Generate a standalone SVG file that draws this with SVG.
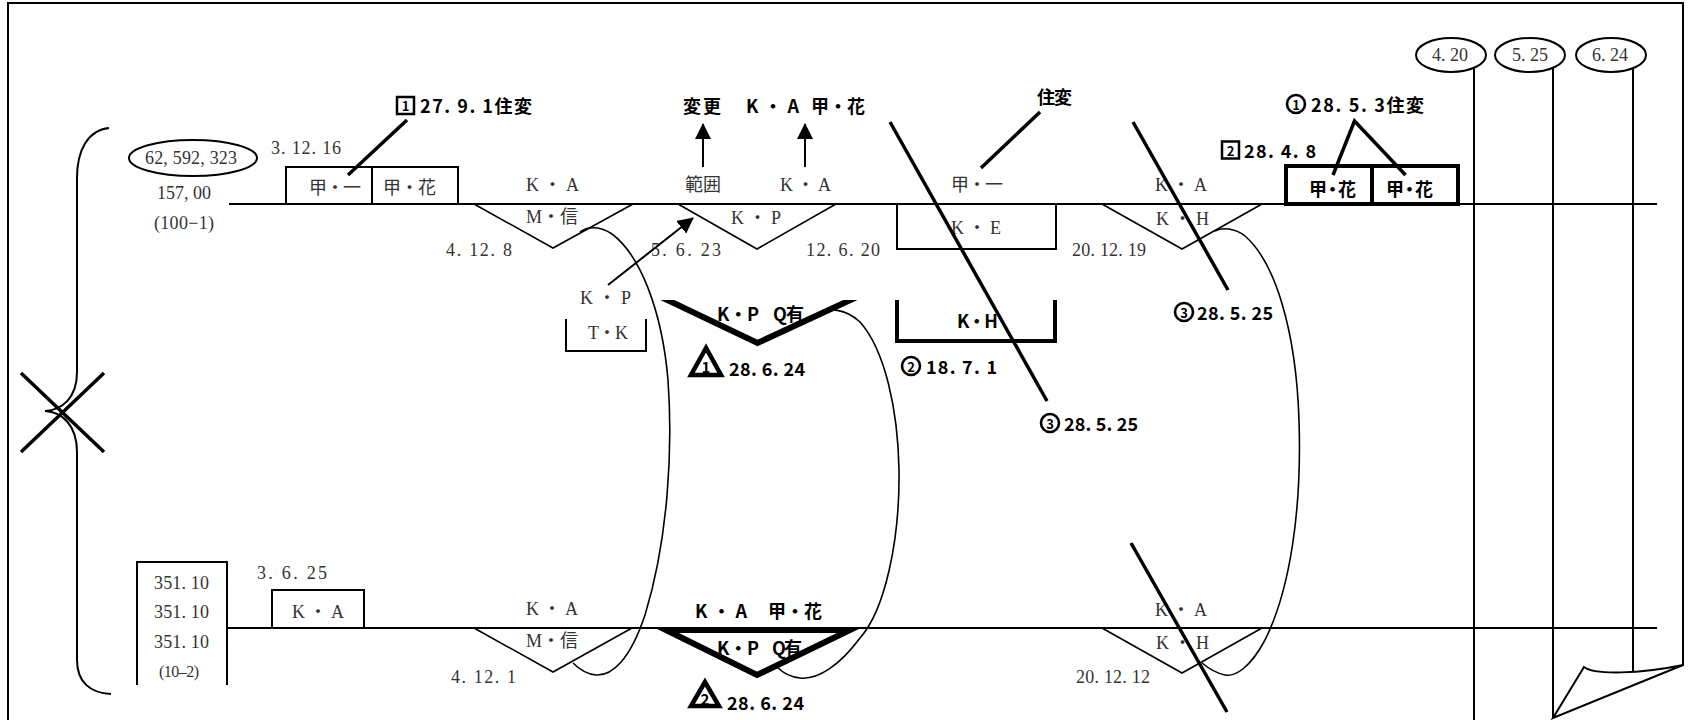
<svg xmlns="http://www.w3.org/2000/svg" width="1690" height="720" viewBox="0 0 1690 720">
  <defs>
    <style>
      .t { font-family: "Liberation Serif", "Noto Sans CJK JP", serif; font-size: 18px; fill: #333; dominant-baseline: central; }
      .ts { font-family: "Liberation Serif", "Noto Sans CJK JP", serif; font-size: 16px; fill: #333; dominant-baseline: central; }
      .b { font-family: "Noto Sans CJK JP", "Noto Sans", sans-serif; font-weight: 700; font-size: 18px; fill: #000; dominant-baseline: central; }
      .bn { font-family: "Noto Sans CJK JP", "Noto Sans", sans-serif; font-weight: 700; font-size: 13px; fill: #000; dominant-baseline: central; text-anchor: middle; }
      .bt { font-family: "Noto Sans CJK JP", "Noto Sans", sans-serif; font-weight: 700; font-size: 15px; fill: #000; dominant-baseline: central; text-anchor: middle; }
      .ln { fill: none; stroke: #000; stroke-width: 2; }
      .lt { fill: none; stroke: #000; stroke-width: 1.6; }
      .lk { fill: none; stroke: #000; stroke-width: 3.5; stroke-linecap: butt; }
      .lb { fill: none; stroke: #000; stroke-width: 4; }
      .lv { fill: none; stroke: #000; stroke-width: 6; stroke-miterlimit: 10; }
      .ring { fill: none; stroke: #000; stroke-width: 2.6; }
      .sq { fill: none; stroke: #000; stroke-width: 2.5; }
      .tri { fill: none; stroke: #000; stroke-width: 4.5; stroke-linejoin: miter; }
    </style>
    <marker id="arrow" markerUnits="userSpaceOnUse" markerWidth="16" markerHeight="16" refX="15" refY="8" orient="auto">
      <path d="M0,0 L16,8 L0,16 z" fill="#000"/>
    </marker>
    <clipPath id="cutTop">
      <rect x="600" y="300" width="320" height="60"/>
    </clipPath>
  </defs>

  <rect width="1690" height="720" fill="#fff"/>

  <!-- sheet outline with the curled lower-right corner -->
  <g id="sheet">
    <path class="ln" d="M8,720 V3 H1683 V665 L1553,718 L1584,667 C1594,675 1640,674 1683,665"/>
  </g>

  <!-- left brace joining both parcels, struck through -->
  <g id="brace">
    <path class="ln" d="M109,128 C88,130 77,150 77,178 V372 C77,398 62,410 45,411 C62,412 77,425 77,452 V660 C77,682 90,693 111,694"/>
    <path class="lk" d="M21,373 L104,452 M104,373 L21,452"/>
  </g>

  <!-- base lines of the two parcels -->
  <g id="base-lines">
    <path class="ln" d="M229,204 H1657"/>
    <path class="ln" d="M227,628 H1657"/>
  </g>

  <!-- date columns on the right -->
  <g id="date-420">
    <ellipse class="ln" cx="1451" cy="55" rx="35" ry="17"/>
    <text class="t" x="1432" y="55" textLength="36" lengthAdjust="spacing">4. 20</text>
    <path class="ln" d="M1474,68 V720"/>
  </g>
  <g id="date-525">
    <ellipse class="ln" cx="1530" cy="55" rx="35" ry="17"/>
    <text class="t" x="1512" y="55" textLength="36" lengthAdjust="spacing">5. 25</text>
    <path class="ln" d="M1553,68 V718"/>
  </g>
  <g id="date-624">
    <ellipse class="ln" cx="1611" cy="55" rx="35" ry="17"/>
    <text class="t" x="1592" y="55" textLength="36" lengthAdjust="spacing">6. 24</text>
    <path class="ln" d="M1633,68 V672"/>
  </g>

  <!-- upper parcel (100-1) -->
  <g id="parcel-100-1">
    <ellipse class="ln" cx="193" cy="158" rx="64" ry="18"/>
    <text class="t" x="145" y="158" textLength="92" lengthAdjust="spacing">62, 592, 323</text>
    <text class="t" x="157" y="193" textLength="54" lengthAdjust="spacing">157, 00</text>
    <text class="t" x="154" y="223" textLength="60" lengthAdjust="spacing">(100−1)</text>
  </g>

  <g id="owner-box-1">
    <text class="t" x="271" y="148" textLength="70" lengthAdjust="spacing">3. 12. 16</text>
    <rect class="ln" x="286" y="167" width="172" height="37"/>
    <path class="ln" d="M372,167 V204"/>
    <text class="t" x="309" y="188" textLength="52" lengthAdjust="spacing">甲・一</text>
    <text class="t" x="383" y="188" textLength="53" lengthAdjust="spacing">甲・花</text>
  </g>

  <g id="note-1">
    <rect class="sq" x="397" y="97" width="17" height="17"/>
    <text class="bn" x="405.5" y="105.5">1</text>
    <text class="b" x="420" y="105" textLength="112" lengthAdjust="spacing">27. 9. 1住変</text>
  </g>

  <g id="mortgage-m-top">
    <text class="t" x="526" y="185" textLength="53" lengthAdjust="spacing">K・A</text>
    <path class="lt" d="M474,204 L553,248 L633,204"/>
    <text class="t" x="526" y="217" textLength="52" lengthAdjust="spacing">M・信</text>
    <text class="t" x="446" y="250" textLength="66" lengthAdjust="spacing">4. 12. 8</text>
  </g>

  <g id="mortgage-kp-top">
    <text class="t" x="685" y="185" textLength="36" lengthAdjust="spacing">範囲</text>
    <text class="t" x="780" y="185" textLength="51" lengthAdjust="spacing">K・A</text>
    <path class="lt" d="M678,204 L757,249 L836,204"/>
    <text class="t" x="731" y="218" textLength="50" lengthAdjust="spacing">K・P</text>
    <text class="t" x="651" y="250" textLength="70" lengthAdjust="spacing">5. 6. 23</text>
    <text class="t" x="806" y="250" textLength="74" lengthAdjust="spacing">12. 6. 20</text>
  </g>

  <g id="note-change">
    <text class="b" x="683" y="105" textLength="38" lengthAdjust="spacing">変更</text>
    <text class="b" x="746" y="105" textLength="53" lengthAdjust="spacing">K・A</text>
    <text class="b" x="811" y="105" textLength="54" lengthAdjust="spacing">甲・花</text>
  </g>

  <g id="tk-box">
    <text class="t" x="580" y="298" textLength="51" lengthAdjust="spacing">K・P</text>
    <path class="ln" d="M566,319 V351 H646 V319"/>
    <text class="t" x="588" y="333" textLength="40" lengthAdjust="spacing">T・K</text>
  </g>

  <g id="kp-q-top">
    <g clip-path="url(#cutTop)">
      <path class="lv" d="M659,296 L757.5,343 L859,296"/>
    </g>
    <text class="b" x="717" y="313" textLength="42" lengthAdjust="spacing">K・P</text>
    <text class="b" x="773" y="313" textLength="31" lengthAdjust="spacing">Q有</text>
    <polygon class="tri" points="706,348 691,375 721,375"/>
    <text class="bt" x="706" y="366">1</text>
    <text class="b" x="729" y="368" textLength="76" lengthAdjust="spacing">28. 6. 24</text>
  </g>

  <g id="owner-ke">
    <text class="t" x="951" y="185" textLength="52" lengthAdjust="spacing">甲・一</text>
    <rect class="ln" x="897" y="204" width="159" height="45"/>
    <text class="t" x="951" y="228" textLength="50" lengthAdjust="spacing">K・E</text>
    <text class="b" x="1037" y="96" textLength="35" lengthAdjust="spacing">住変</text>
  </g>

  <g id="kh-bracket">
    <path class="lb" d="M897,300 V341 H1055 V300"/>
    <text class="b" x="957" y="320" textLength="41" lengthAdjust="spacing">K・H</text>
    <circle class="ring" cx="911" cy="366" r="9"/>
    <text class="bn" x="911" y="366">2</text>
    <text class="b" x="926" y="366" textLength="71" lengthAdjust="spacing">18. 7. 1</text>
  </g>

  <g id="note-3a">
    <circle class="ring" cx="1050" cy="423" r="9"/>
    <text class="bn" x="1050" y="423">3</text>
    <text class="b" x="1064" y="423" textLength="74" lengthAdjust="spacing">28. 5. 25</text>
  </g>

  <g id="mortgage-kh-top">
    <text class="t" x="1155" y="185" textLength="52" lengthAdjust="spacing">K・A</text>
    <path class="lt" d="M1102,204 L1182,249 L1262,204"/>
    <text class="t" x="1156" y="219" textLength="53" lengthAdjust="spacing">K・H</text>
    <text class="t" x="1072" y="250" textLength="74" lengthAdjust="spacing">20. 12. 19</text>
  </g>

  <g id="note-3b">
    <circle class="ring" cx="1184" cy="312" r="9"/>
    <text class="bn" x="1184" y="312">3</text>
    <text class="b" x="1197" y="312" textLength="76" lengthAdjust="spacing">28. 5. 25</text>
  </g>

  <g id="owner-box-2">
    <rect x="1286" y="166" width="172" height="38" fill="none" stroke="#000" stroke-width="4"/>
    <path class="lb" d="M1372,166 V204"/>
    <text class="b" x="1309" y="188" textLength="47" lengthAdjust="spacing">甲・花</text>
    <text class="b" x="1386" y="188" textLength="47" lengthAdjust="spacing">甲・花</text>
    <rect class="sq" x="1222" y="141.5" width="17" height="17"/>
    <text class="bn" x="1230.5" y="150">2</text>
    <text class="b" x="1244" y="150" textLength="72" lengthAdjust="spacing">28. 4. 8</text>
    <circle class="ring" cx="1296" cy="104" r="9"/>
    <text class="bn" x="1296" y="104">1</text>
    <text class="b" x="1311" y="104" textLength="113" lengthAdjust="spacing">28. 5. 3住変</text>
  </g>

  <!-- lower parcel (10-2) -->
  <g id="parcel-10-2">
    <path class="ln" d="M137,685 V562 H227 V685"/>
    <text class="t" x="154" y="583" textLength="55" lengthAdjust="spacing">351. 10</text>
    <text class="t" x="154" y="612" textLength="55" lengthAdjust="spacing">351. 10</text>
    <text class="t" x="154" y="642" textLength="55" lengthAdjust="spacing">351. 10</text>
    <text class="ts" x="159" y="671" textLength="40" lengthAdjust="spacing">(10–2)</text>
  </g>

  <g id="owner-box-3">
    <text class="t" x="257" y="573" textLength="70" lengthAdjust="spacing">3. 6. 25</text>
    <rect class="ln" x="272" y="590" width="92" height="38"/>
    <text class="t" x="292" y="612" textLength="52" lengthAdjust="spacing">K・A</text>
  </g>

  <g id="mortgage-m-bottom">
    <text class="t" x="526" y="609" textLength="52" lengthAdjust="spacing">K・A</text>
    <path class="lt" d="M474,628 L553,672 L632,628"/>
    <text class="t" x="526" y="641" textLength="52" lengthAdjust="spacing">M・信</text>
    <text class="t" x="451" y="677" textLength="65" lengthAdjust="spacing">4. 12. 1</text>
  </g>

  <g id="kp-q-bottom">
    <text class="b" x="695" y="610" textLength="52" lengthAdjust="spacing">K・A</text>
    <text class="b" x="768" y="610" textLength="54" lengthAdjust="spacing">甲・花</text>
    <polygon class="lv" points="666,630 757,675 850,630"/>
    <text class="b" x="717" y="647" textLength="42" lengthAdjust="spacing">K・P</text>
    <text class="b" x="772" y="647" textLength="30" lengthAdjust="spacing">Q有</text>
    <polygon class="tri" points="705,682 691,706 719,706"/>
    <text class="bt" x="705" y="698">2</text>
    <text class="b" x="727" y="702" textLength="77" lengthAdjust="spacing">28. 6. 24</text>
  </g>

  <g id="mortgage-kh-bottom">
    <text class="t" x="1155" y="610" textLength="52" lengthAdjust="spacing">K・A</text>
    <path class="lt" d="M1102,628 L1182,673 L1262,628"/>
    <text class="t" x="1156" y="643" textLength="53" lengthAdjust="spacing">K・H</text>
    <text class="t" x="1076" y="677" textLength="74" lengthAdjust="spacing">20. 12. 12</text>
  </g>

  <!-- connectors: transfer loops, arrows, callouts and strike lines -->
  <g id="connectors">
    <path class="lt" d="M580,232 C588,226 600,226 612,234 C640,255 662,310 668,380 C673,450 668,540 645,615 C630,660 612,676 596,675 C585,674 578,668 573,663"/>
    <path class="lt" d="M820,313 C828,308 845,308 860,322 C885,350 898,410 899,470 C900,540 885,610 860,638 C840,665 818,680 800,678 C790,677 782,672 777,667"/>
    <path class="lt" d="M1215,231 C1222,227 1235,228 1245,236 C1275,262 1296,330 1299,420 C1302,510 1290,590 1265,640 C1250,668 1235,677 1225,675 C1215,673 1208,668 1202,663"/>

    <path class="ln" stroke-width="2.6" d="M703,167 V124" marker-end="url(#arrow)"/>
    <path class="ln" stroke-width="2.6" d="M805,167 V124" marker-end="url(#arrow)"/>
    <path class="ln" stroke-width="2.6" d="M608,285 L693,218" marker-end="url(#arrow)"/>

    <path class="lk" d="M348,175 L407,120"/>
    <path class="lk" d="M981,168 L1040,112"/>
    <path class="lk" d="M1333,175 L1354.5,121 L1405.5,175"/>

    <path class="lk" d="M890,122 L1047,401"/>
    <path class="lk" d="M1133,122 L1228,290"/>
    <path class="lk" d="M1131,543 L1227,712"/>
  </g>
</svg>
